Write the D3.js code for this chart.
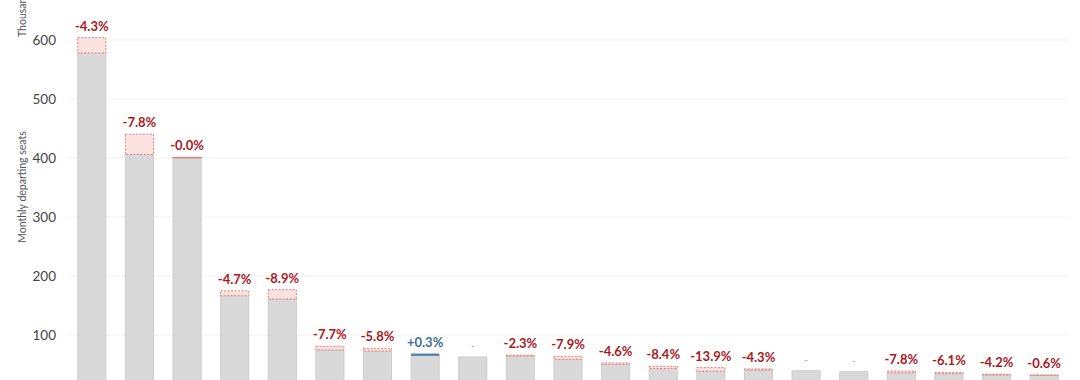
<!DOCTYPE html>
<html>
<head>
<meta charset="utf-8">
<script src="https://cdn.jsdelivr.net/npm/d3@7"></script>
<style>
  body { margin: 0; background: #fff; overflow: hidden; }
  svg { display: block; font-family: Lato, "Open Sans", sans-serif; }
</style>
</head>
<body>
<svg id="chart" width="1080" height="380"></svg>
<script>
// ranked airports (names are below the visible area)
const categories = d3.range(1, 22).map(i => 'Airport ' + i);
// monthly departing seats, thousands
const current = [578, 406, 401, 166.6, 161, 74.6, 72.9, 67, 62.7, 64.4, 58.8, 50.3, 43, 38.5, 40.7, 39.5, 37.8, 36, 34.4, 32.2, 32];
// year-on-year change, % (null = no comparison)
const changes = [-4.3, -7.8, -0.0, -4.7, -8.9, -7.7, -5.8, 0.3, null, -2.3, -7.9, -4.6, -8.4, -13.9, -4.3, null, null, -7.8, -6.1, -4.2, -0.6];
const yTicks = [100, 200, 300, 400, 500, 600];

const svg = d3.select('#chart');

const x = d3.scaleBand()
  .domain(categories)
  .range([68, 1068])
  .paddingInner(0.41)
  .paddingOuter(0.205);

const y = d3.scaleLinear()
  .domain([0, 600])
  .range([394, 40]);

// grid
svg.append('g')
  .selectAll('line')
  .data(yTicks)
  .join('line')
  .attr('x1', 68)
  .attr('x2', 1068)
  .attr('y1', d => y(d))
  .attr('y2', d => y(d))
  .attr('stroke', '#f0f0f0')
  .attr('stroke-width', 1);

// y axis labels
const yAxis = svg.append('g')
  .attr('transform', 'translate(56,0)')
  .call(d3.axisLeft(y).tickValues(yTicks).tickSize(0).tickPadding(0));
yAxis.select('.domain').remove();
yAxis.selectAll('text')
  .attr('fill', '#444')
  .style('font-size', '13.5px')
  .style('font-family', 'Lato, sans-serif');

svg.append('text')
  .attr('transform', 'translate(26,187) rotate(-90)')
  .attr('text-anchor', 'middle')
  .attr('fill', '#555')
  .style('font-size', '10.5px')
  .text('Monthly departing seats');

svg.append('text')
  .attr('transform', 'translate(26,37) rotate(-90)')
  .attr('text-anchor', 'start')
  .attr('fill', '#555')
  .style('font-size', '10.5px')
  .text('Thousands');

const rows = categories.map((c, i) => ({
  c,
  cur: current[i],
  chg: changes[i],
  prev: changes[i] == null ? null : current[i] / (1 + changes[i] / 100)
}));

// current bars
svg.append('g')
  .selectAll('rect')
  .data(rows)
  .join('rect')
  .attr('x', d => x(d.c))
  .attr('width', x.bandwidth())
  .attr('y', d => y(d.cur))
  .attr('height', d => y(0) - y(d.cur))
  .attr('fill', '#d9d9d9')
  .attr('stroke', '#cccccc')
  .attr('stroke-width', 1);

// decline boxes
svg.append('g')
  .selectAll('rect')
  .data(rows.filter(d => d.chg != null && d.chg <= 0))
  .join('rect')
  .attr('x', d => x(d.c))
  .attr('width', x.bandwidth())
  .attr('y', d => y(d.prev))
  .attr('height', d => Math.max(0.5, y(d.cur) - y(d.prev)))
  .attr('fill', '#f9e2e0')
  .attr('stroke', '#e0807a')
  .attr('stroke-width', 1)
  .attr('stroke-dasharray', d => d.chg === 0 ? null : '2,1.5');

// growth marks
svg.append('g')
  .selectAll('rect')
  .data(rows.filter(d => d.chg != null && d.chg > 0))
  .join('rect')
  .attr('x', d => x(d.c))
  .attr('width', x.bandwidth())
  .attr('y', d => y(d.cur) - 1)
  .attr('height', 2.5)
  .attr('fill', '#5b87ad');

// change labels
function pct(d) {
  if (d.chg == null) return '-';
  return (d.chg > 0 ? '+' : '-') + Math.abs(d.chg).toFixed(1) + '%';
}
svg.append('g')
  .selectAll('text')
  .data(rows)
  .join('text')
  .attr('x', d => x(d.c) + x.bandwidth() / 2)
  .attr('y', d => y(Math.max(d.cur, d.prev || 0)) - (d.chg == null ? 8 : 7))
  .attr('text-anchor', 'middle')
  .attr('fill', d => d.chg == null ? '#999' : (d.chg > 0 ? '#3f6e96' : '#a8191e'))
  .style('font-size', d => d.chg == null ? '10px' : '13px')
  .style('font-weight', d => d.chg == null ? 'normal' : 'bold')
  .text(pct);
</script>
</body>
</html>
